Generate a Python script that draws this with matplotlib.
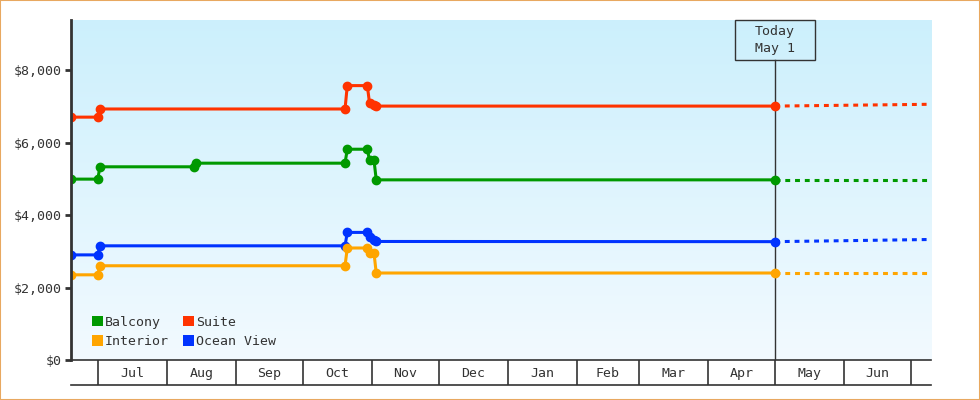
import matplotlib.pyplot as plt
import matplotlib.dates as mdates
import numpy as np
import pandas as pd
from matplotlib.patches import Patch, Rectangle

plt.rcParams["font.family"] = ["DejaVu Sans Mono"]

# ── data ──
START = "2018-06-19"
END = "2019-07-10"
TODAY = "2019-05-01"

balcony_dates = ["2018-06-19", "2018-07-01", "2018-07-02", "2018-08-13", "2018-08-14",
                 "2018-10-20", "2018-10-21", "2018-10-30", "2018-10-31", "2018-11-02",
                 "2018-11-03", "2019-05-01"]
balcony_prices = [4990, 4990, 5330, 5330, 5430, 5430, 5815, 5815, 5510, 5510, 4970, 4970]

suite_dates = ["2018-06-19", "2018-07-01", "2018-07-02", "2018-10-20", "2018-10-21",
               "2018-10-30", "2018-10-31", "2018-11-02", "2018-11-03", "2019-05-01"]
suite_prices = [6700, 6700, 6925, 6925, 7570, 7570, 7080, 7035, 7005, 7005]

ocean_dates = ["2018-06-19", "2018-07-01", "2018-07-02", "2018-10-20", "2018-10-21",
               "2018-10-30", "2018-10-31", "2018-11-02", "2018-11-03", "2019-05-01"]
ocean_prices = [2900, 2900, 3150, 3150, 3520, 3520, 3390, 3320, 3270, 3265]

interior_dates = ["2018-06-19", "2018-07-01", "2018-07-02", "2018-10-20", "2018-10-21",
                  "2018-10-30", "2018-10-31", "2018-11-02", "2018-11-03", "2019-05-01"]
interior_prices = [2350, 2350, 2600, 2600, 3090, 3090, 2950, 2950, 2400, 2400]

# projection from today to the right edge
proj_dates = [TODAY, END]
balcony_proj = [4970, 4970]
suite_proj = [7005, 7055]
ocean_proj = [3265, 3325]
interior_proj = [2400, 2400]

month_starts = ["2018-07-01", "2018-08-01", "2018-09-01", "2018-10-01", "2018-11-01",
                "2018-12-01", "2019-01-01", "2019-02-01", "2019-03-01", "2019-04-01",
                "2019-05-01", "2019-06-01", "2019-07-01"]
month_labels = ["Jul", "Aug", "Sep", "Oct", "Nov", "Dec", "Jan", "Feb", "Mar", "Apr",
                "May", "Jun"]

y_ticks = [0, 2000, 4000, 6000, 8000]
y_max = 9380

GREEN = "#009900"
RED = "#ff3300"
BLUE = "#0033ff"
ORANGE = "#ffa500"
INK = "#333333"


def to_num(dates):
    return mdates.date2num(pd.to_datetime(dates).to_numpy())


series = [
    ("Balcony", GREEN, balcony_dates, balcony_prices, balcony_proj),
    ("Suite", RED, suite_dates, suite_prices, suite_proj),
    ("Ocean View", BLUE, ocean_dates, ocean_prices, ocean_proj),
    ("Interior", ORANGE, interior_dates, interior_prices, interior_proj),
]

W, H = 980, 400
AX_L, AX_R, AX_T, AX_B = 71, 931, 20, 360

fig = plt.figure(figsize=(W / 100, H / 100), dpi=100)
ax = fig.add_axes([AX_L / W, (H - AX_B) / H, (AX_R - AX_L) / W, (AX_B - AX_T) / H])

x0, x1 = to_num([START, END])
today = to_num([TODAY])[0]

# gradient background
grad = np.linspace(0, 1, 256)[:, None]
top = np.array([0.80, 0.94, 0.99])
bot = np.array([0.95, 0.98, 1.0])
img = top[None, None, :] * (1 - grad[..., None]) + bot[None, None, :] * grad[..., None]
ax.imshow(img, extent=(0, 1, 0, 1), transform=ax.transAxes, aspect="auto", zorder=0)

# today marker: box + vertical line
days_per_px = (x1 - x0) / (AX_R - AX_L)
box_h = 40 / (AX_B - AX_T)
ax.add_patch(Rectangle((today - 40 * days_per_px, 1 - box_h), 80 * days_per_px, box_h,
                       transform=ax.get_xaxis_transform(), fill=False,
                       edgecolor=INK, lw=1, zorder=3, clip_on=False))
ax.text(today, 1 - box_h / 2, "Today\nMay 1", transform=ax.get_xaxis_transform(),
        ha="center", va="center", fontsize=9.5, color=INK, linespacing=1.35, zorder=4)
ax.axvline(today, ymin=0, ymax=1 - box_h, color=INK, lw=1, zorder=1)

for name, color, dates, prices, proj in series:
    ax.plot(to_num(dates), prices, color=color, lw=2.2, marker="o", ms=6, zorder=2)
    ax.plot(to_num(proj_dates), proj, color=color, lw=2.2, ls=(0, (1.6, 1.6)), zorder=2)

ax.set_xlim(x0, x1)
ax.set_ylim(0, y_max)
ax.set_xticks([])
ax.set_yticks(y_ticks)
ax.set_yticklabels([f"${v:,}" for v in y_ticks])
ax.tick_params(axis="y", length=4, width=2, color=INK, labelsize=9.5, labelcolor=INK, pad=3)
for side in ("top", "right"):
    ax.spines[side].set_visible(False)
ax.spines["left"].set_linewidth(2)
ax.spines["left"].set_color(INK)
ax.spines["bottom"].set_linewidth(1.2)
ax.spines["bottom"].set_color(INK)

handles = [Patch(facecolor=GREEN, label="Balcony"),
           Patch(facecolor=ORANGE, label="Interior"),
           Patch(facecolor=RED, label="Suite"),
           Patch(facecolor=BLUE, label="Ocean View")]
leg = ax.legend(handles=handles, ncol=2, loc="lower left", bbox_to_anchor=(0.024, 0.035),
                frameon=False, fontsize=9.5, handlelength=0.85, handleheight=0.85,
                handletextpad=0.15, columnspacing=1.05, labelspacing=0.5, borderpad=0,
                borderaxespad=0)
for t in leg.get_texts():
    t.set_color(INK)

# month band under the plot
band = fig.add_axes([AX_L / W, (H - 385) / H, (AX_R - AX_L) / W, 25 / H])
band.set_xlim(x0, x1)
band.set_ylim(0, 1)
band.set_xticks([])
band.set_yticks([])
band.patch.set_alpha(0)
for side in ("left", "right", "top"):
    band.spines[side].set_visible(False)
band.spines["bottom"].set_linewidth(1.2)
band.spines["bottom"].set_color(INK)
bounds = to_num(month_starts)
band.vlines(bounds, 0, 1, color=INK, lw=1.2)
for a, b, lab in zip(bounds[:-1], bounds[1:], month_labels):
    band.text((a + b) / 2, 0.45, lab, ha="center", va="center", fontsize=9.5, color=INK)

# orange frame around the whole image
fig.patches.append(Rectangle((0, 0), 1, 1, transform=fig.transFigure, fill=False,
                             edgecolor="#e8a860", lw=1.5))

fig.savefig("out.png", dpi=100)
